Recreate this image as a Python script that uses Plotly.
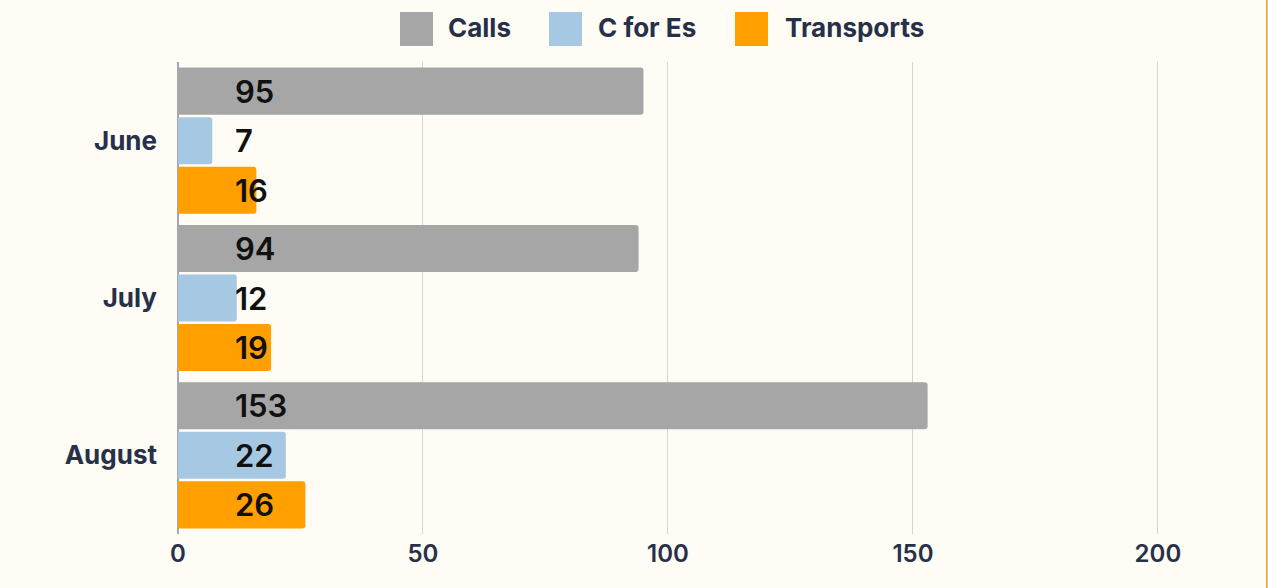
import plotly.graph_objects as go

months = ["June", "July", "August"]
series_names = ["Calls", "C for Es", "Transports"]
calls = [95, 94, 153]
c_for_es = [7, 12, 22]
transports = [16, 19, 26]
series_values = [calls, c_for_es, transports]
x_ticks = [0, 50, 100, 150, 200]

colors = ["#a6a6a6", "#a6c8e2", "#ffa000"]
bg = "#fffbf5"
navy = "#263048"
W, H = 1268, 588
ml, mr, mt, mb = 178, 17, 62, 54
plot_w = W - ml - mr
plot_h = H - mt - mb
BARGAP = 0.055

def px_x(px):
    return (px - ml) / plot_w

def px_y(py):
    return 1 - (py - mt) / plot_h

fig = go.Figure()
for name, vals, col in zip(series_names, series_values, colors):
    fig.add_trace(go.Bar(
        y=months, x=vals, name=name, orientation="h",
        marker=dict(color=col, cornerradius=3, line=dict(width=0)),
        showlegend=False, hoverinfo="x+name",
    ))

# data labels, placed near the start of each bar
annotations = []
n = len(series_names)
group_frac = 1 - BARGAP
for si, (name, vals) in enumerate(zip(series_names, series_values)):
    for mi, (m, v) in enumerate(zip(months, vals)):
        off = (-group_frac / 2 + group_frac / n * (si + 0.5))
        annotations.append(dict(
            x=11.2, y=mi + off, xref="x", yref="y",
            text=str(v), showarrow=False, xanchor="left", yanchor="middle",
            font=dict(family="Inter", size=31, color="#111111", weight=600),
        ))

# custom legend
sq = [(400, 433), (549, 582), (735, 768)]
txt_x = [446, 596, 783]
shapes = []
for (x0, x1), col, tx, name in zip(sq, colors, txt_x, series_names):
    shapes.append(dict(type="rect", xref="paper", yref="paper",
                       x0=px_x(x0), x1=px_x(x1), y0=px_y(46), y1=px_y(12),
                       fillcolor=col, line=dict(width=0)))
    annotations.append(dict(x=px_x(tx), y=px_y(28), xref="paper", yref="paper",
                            text=name, showarrow=False, xanchor="left", yanchor="middle",
                            font=dict(family="Inter", size=26, color=navy, weight=700)))

# right border line
shapes.append(dict(type="line", xref="paper", yref="paper",
                   x0=px_x(1266.8), x1=px_x(1266.8), y0=px_y(H), y1=px_y(0),
                   line=dict(color="#f0a020", width=1.5)))

fig.update_layout(
    width=W, height=H,
    margin=dict(l=ml, r=mr, t=mt, b=mb),
    paper_bgcolor=bg, plot_bgcolor=bg,
    barmode="group", bargap=BARGAP, bargroupgap=0.05,
    annotations=annotations, shapes=shapes,
    font=dict(family="Inter", color=navy),
    xaxis=dict(range=[0, 219], tickvals=x_ticks, showgrid=True, gridcolor="#d4d4d4",
               gridwidth=1, zeroline=True, zerolinecolor="#a4a8b4", zerolinewidth=1.5,
               tickfont=dict(family="Inter", size=24, color=navy, weight=600),
               ticks="", showline=False, ticklabelstandoff=3),
    yaxis=dict(autorange="reversed", showgrid=False, zeroline=False, showline=False,
               tickfont=dict(family="Inter", size=26, color=navy, weight=700),
               ticklabelstandoff=20),
)

fig.write_html("out.html", config={"displayModeBar": False},
               post_script="document.body.style.margin='0';document.body.style.overflow='hidden';")
